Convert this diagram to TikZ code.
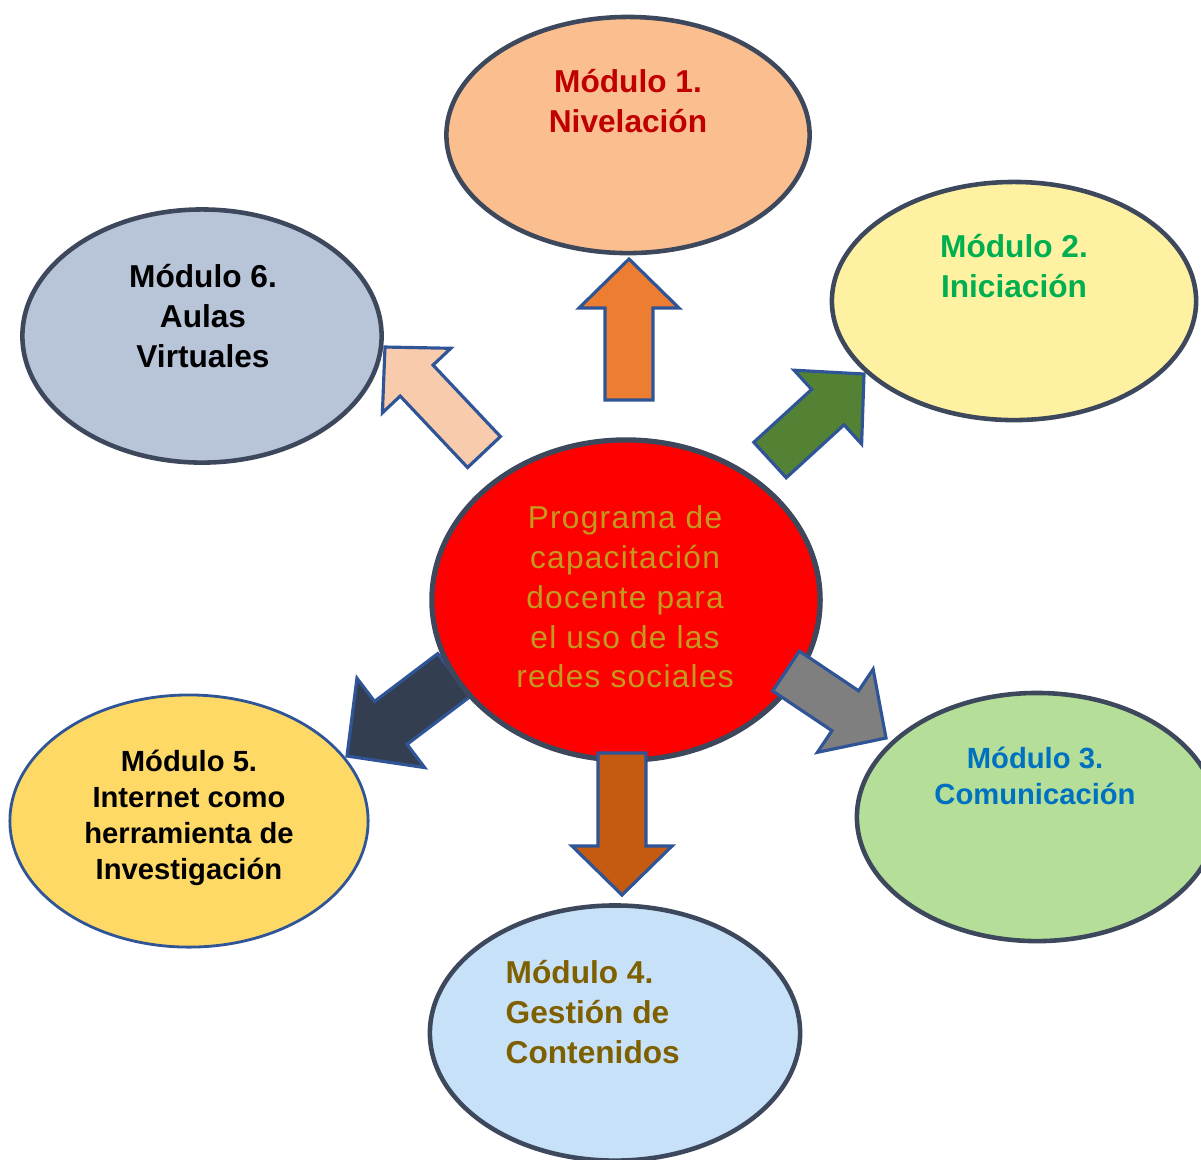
\documentclass[tikz,border=0pt]{standalone}
\usepackage{fontspec}
\setmainfont{Liberation Sans}
\usetikzlibrary{calc,shapes.geometric}

\definecolor{peachfill}{RGB}{251,190,142}
\definecolor{creamfill}{RGB}{255,241,162}
\definecolor{greenfill}{RGB}{181,222,152}
\definecolor{skyfill}{RGB}{199,225,248}
\definecolor{goldfill}{RGB}{255,217,102}
\definecolor{slatefill}{RGB}{184,196,216}
\definecolor{rimgray}{RGB}{62,72,92}
\definecolor{arrowline}{RGB}{47,85,151}
\definecolor{txtred}{RGB}{192,0,0}
\definecolor{txtgreen}{RGB}{0,176,80}
\definecolor{txtblue}{RGB}{0,112,192}
\definecolor{txtbrown}{RGB}{127,96,0}
\definecolor{txtgold}{RGB}{196,154,30}
\definecolor{arrorange}{RGB}{237,125,49}
\definecolor{arrgreen}{RGB}{84,130,53}
\definecolor{arrpeach}{RGB}{248,203,173}
\definecolor{arrnavy}{RGB}{51,63,80}
\definecolor{arrgray}{RGB}{127,127,127}
\definecolor{arrrust}{RGB}{197,90,17}

% block arrow: [size] tail, tip, fill
\newcommand{\blockarrow}[4][1]{%
  \pgfmathsetlengthmacro\shaftw{0.24cm*#1}
  \pgfmathsetlengthmacro\headw{0.50cm*#1}
  \pgfmathsetlengthmacro\headl{0.49cm*#1}
  \coordinate (hb) at ($(#3)!\headl!(#2)$);
  \filldraw[blockarr, fill=#4] ($(#2)!\shaftw!90:(#3)$) -- ($(hb)!\shaftw!90:(#3)$)
    -- ($(hb)!\headw!90:(#3)$) -- (#3) -- ($(hb)!\headw!-90:(#3)$)
    -- ($(hb)!\shaftw!-90:(#3)$) -- ($(#2)!\shaftw!-90:(#3)$) -- cycle;}

\begin{document}
\begin{tikzpicture}[x=0.01cm,y=-0.01cm,
module/.style={ellipse,draw=rimgray,line width=1.3pt,inner sep=0pt},
modtext/.style={font=\fontsize{9}{11.3}\selectfont\bfseries,align=center,inner sep=0pt},
smalltext/.style={font=\fontsize{8.3}{10.3}\selectfont\bfseries,align=center,inner sep=0pt},
blockarr/.style={draw=arrowline,line width=0.9pt,line join=miter}]
\useasboundingbox (0,0) rectangle (1201,1159);
%modules
  \node[module,fill=peachfill,minimum width=3.63cm,minimum height=2.36cm] (m1) at (628,135) {};
  \node[modtext,text=txtred] (t1) at ($(m1)+(0,-34)$) {Módulo 1.\\Nivelación};
  \node[module,fill=creamfill,minimum width=3.64cm,minimum height=2.38cm] (m2) at (1014,301) {};
  \node[modtext,text=txtgreen] (t2) at ($(m2)+(0,-35)$) {Módulo 2.\\Iniciación};
  \node[module,fill=greenfill,minimum width=3.6cm,minimum height=2.48cm] (m3) at (1037,817) {};
  \node[smalltext,text=txtblue] (t3) at ($(m3)+(-2,-41)$) {Módulo 3.\\Comunicación};
  \node[module,fill=skyfill,minimum width=3.7cm,minimum height=2.55cm] (m4) at (615,1033) {};
  \node[modtext,text=txtbrown,align=left,anchor=west] (t4) at (505,1012) {Módulo 4.\\Gestión de\\Contenidos};
  \node[module,fill=goldfill,draw=arrowline,line width=0.8pt,minimum width=3.58cm,minimum height=2.52cm] (m5) at (189,821) {};
  \node[smalltext] (t5) at ($(m5)+(0,-3)$) {Módulo 5.\\Internet como\\herramienta de\\Investigación};
  \node[module,fill=slatefill,minimum width=3.59cm,minimum height=2.53cm] (m6) at (202,336) {};
  \node[modtext] (t6) at ($(m6)+(1,-20)$) {Módulo 6.\\Aulas\\Virtuales};
%arrow ends
  \coordinate (a1s) at (629,400); \coordinate (a1e) at (629,259);
  \coordinate (a2s) at (770,460); \coordinate (a2e) at (864,374);
  \coordinate (a3s) at (786,671); \coordinate (a3e) at (886,738);
  \coordinate (a4s) at (622,753); \coordinate (a4e) at (622,895);
  \coordinate (a5s) at (454,675); \coordinate (a5e) at (347,756);
  \coordinate (a6s) at (484,452); \coordinate (a6e) at (385,347);
  \blockarrow[1.12]{a5s}{a5e}{arrnavy}
%center
  \node[ellipse,fill=red,draw=rimgray,line width=1.5pt,minimum width=3.88cm,minimum height=3.2cm,inner sep=0pt] (c) at (626,600) {};
  \node[font=\fontsize{9}{11.3}\selectfont\addfontfeature{LetterSpace=4},text=txtgold,align=center,inner sep=0pt] (ct) at ($(c)+(-1,-3)$)
    {Programa de\\capacitación\\docente para\\el uso de las\\redes sociales};
  \blockarrow{a1s}{a1e}{arrorange}
  \blockarrow{a2s}{a2e}{arrgreen}
  \blockarrow{a3s}{a3e}{arrgray}
  \blockarrow{a4s}{a4e}{arrrust}
  \blockarrow[0.94]{a6s}{a6e}{arrpeach}
\end{tikzpicture}
\end{document}
